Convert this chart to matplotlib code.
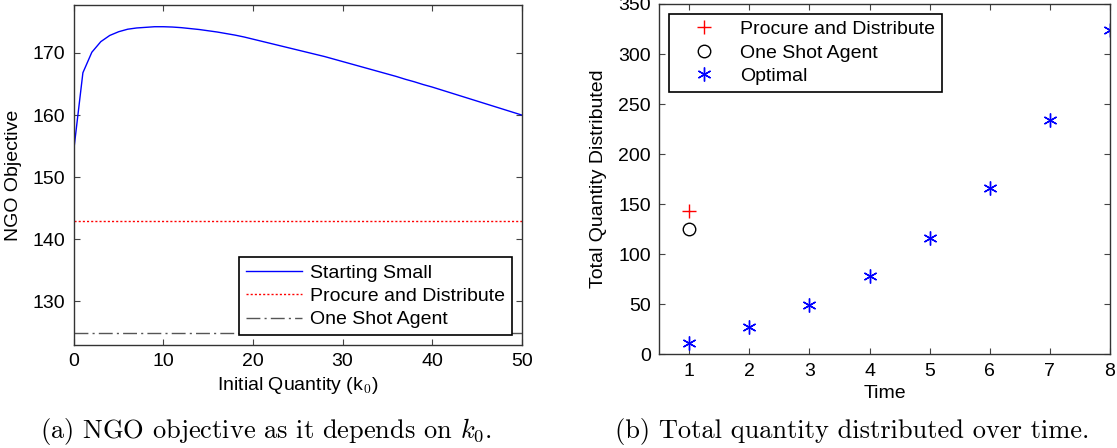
import matplotlib.pyplot as plt

plt.rcParams['font.family'] = ['Liberation Sans', 'DejaVu Sans']
plt.rcParams['mathtext.fontset'] = 'cm'

# (a) NGO objective vs initial quantity
k0 = list(range(0, 51))
starting_small = [154.6, 166.8, 170.1, 171.8, 172.8, 173.4, 173.8, 174.0, 174.1, 174.2,
                  174.2, 174.15, 174.05, 173.9, 173.75, 173.55, 173.35, 173.1, 172.85, 172.55,
                  172.2, 171.85, 171.5, 171.15, 170.8, 170.45, 170.1, 169.75, 169.4, 169.0,
                  168.6, 168.2, 167.8, 167.4, 167.0, 166.6, 166.2, 165.75, 165.35, 164.9,
                  164.5, 164.05, 163.6, 163.15, 162.7, 162.25, 161.8, 161.35, 160.9, 160.45,
                  160.0]
procure_obj = 143.0
one_shot_obj = 125.0

# (b) total quantity distributed over time
time = [1, 2, 3, 4, 5, 6, 7, 8]
optimal = [11.7, 27.7, 49.3, 78.0, 116.0, 166.3, 234.3, 324.3]
procure_t = [1]
procure_q = [143.0]
one_shot_t = [1]
one_shot_q = [125.0]

FS = 14

fig = plt.figure(figsize=(11.17, 4.48), dpi=100)
ax1 = fig.add_axes([0.0662, 0.2299, 0.4008, 0.759])
ax2 = fig.add_axes([0.5902, 0.2092, 0.4035, 0.7819])

ax1.plot(k0, starting_small, color="#0000ff", lw=1.0, label="Starting Small")
ax1.plot([k0[0], k0[-1]], [procure_obj, procure_obj], color="#ff0000", lw=1.0,
         ls=(0, (1.5, 1.5)), label="Procure and Distribute")
ax1.plot([k0[0], k0[-1]], [one_shot_obj, one_shot_obj], color="#555555", lw=1.0,
         ls=(0, (10, 3, 1.5, 3)), label="One Shot Agent")
ax1.set_xlim(0, 50)
ax1.set_ylim(123, 177.7)
ax1.set_yticks([130, 140, 150, 160, 170])
ax1.set_xticks([0, 10, 20, 30, 40, 50])
ax1.set_xlabel(r"Initial Quantity (k$_0$)", fontsize=FS, labelpad=3)
ax1.set_ylabel("NGO Objective", fontsize=FS, labelpad=8)
leg1 = ax1.legend(loc="lower right", fontsize=FS, fancybox=False, framealpha=1,
                  edgecolor="black", borderaxespad=0.5, handlelength=2.9,
                  labelspacing=0.3, borderpad=0.35, handletextpad=0.4)
leg1.get_frame().set_linewidth(1.2)

ax2.plot(procure_t, procure_q, ls="none", marker="+", ms=10, mew=1.0,
         color="#ff0000", label="Procure and Distribute")
ax2.plot(one_shot_t, one_shot_q, ls="none", marker="o", ms=9, mew=1.0,
         mfc="none", mec="black", label="One Shot Agent")
ax2.plot(time, optimal, ls="none", marker=(6, 2, 0), ms=10, mew=1.0,
         color="#0000ff", label="Optimal")
ax2.set_xlim(0.5, 8)
ax2.set_ylim(0, 350)
ax2.set_xticks(time)
ax2.set_yticks([0, 50, 100, 150, 200, 250, 300, 350])
ax2.set_xlabel("Time", fontsize=FS, labelpad=4)
ax2.set_ylabel("Total Quantity Distributed", fontsize=FS, labelpad=8)
leg2 = ax2.legend(loc="upper left", fontsize=FS, fancybox=False, framealpha=1,
                  edgecolor="black", borderaxespad=0.5, handlelength=2.9,
                  numpoints=1, labelspacing=0.3, borderpad=0.35, handletextpad=0.4)
leg2.get_frame().set_linewidth(1.2)

for ax in (ax1, ax2):
    ax.tick_params(direction="in", top=True, right=True, length=4,
                   labelsize=FS, pad=6, color="#444444")
    for s in ax.spines.values():
        s.set_linewidth(1.0)
        s.set_color("#333333")

fig.text(0.238, 0.036, r"(a) NGO objective as it depends on $k_0$.",
         ha="center", va="center", fontsize=19, family="cmr10")
fig.text(0.763, 0.036, "(b) Total quantity distributed over time.",
         ha="center", va="center", fontsize=19, family="cmr10")

fig.savefig("out.png", dpi=100)
